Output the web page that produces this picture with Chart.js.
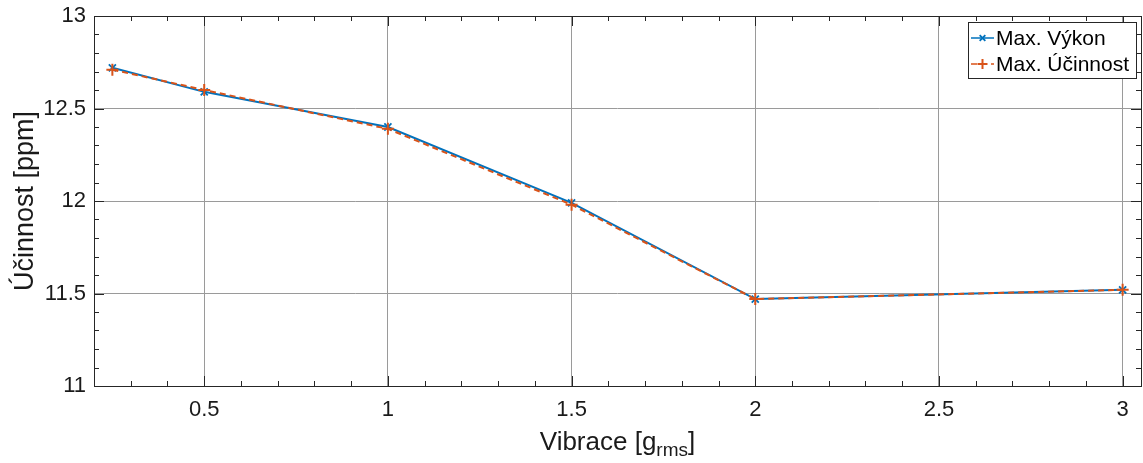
<!DOCTYPE html>
<html>
<head>
<meta charset="utf-8">
<script src="https://cdn.jsdelivr.net/npm/chart.js@4"></script>
<style>
  html, body { margin: 0; padding: 0; background: #fff; }
  #wrap { width: 1143px; height: 463px; }
</style>
</head>
<body>
<div id="wrap"><canvas id="chart"></canvas></div>
<script>
// data
const vibrace = [0.25, 0.5, 1, 1.5, 2, 3];
const maxVykon = [12.72, 12.59, 12.40, 11.99, 11.47, 11.52];
const maxUcinnost = [12.71, 12.60, 12.39, 11.98, 11.47, 11.52];

// axes
const xMajor = [0.5, 1, 1.5, 2, 2.5, 3];
const yMajor = [11, 11.5, 12, 12.5, 13];
const xRange = [0.2, 3.05];
const yRange = [11, 13];

const FONT = '"Liberation Sans", Arial, sans-serif';
const BLUE = '#0072BD';
const ORANGE = '#D95319';

function isMajor(v, list) {
    return list.some(m => Math.abs(m - v) < 1e-6);
}

// minor ticks every 0.1 between the limits
function minorTicks(lo, hi) {
    const out = [];
    for (let i = Math.ceil(lo * 10 - 1e-6); i <= Math.floor(hi * 10 + 1e-6); i++) {
        out.push({ value: i / 10 });
    }
    return out;
}

// MATLAB-style box: ticks inside on all four sides, axis titles, legend
const matlabBox = {
    id: 'matlabBox',
    afterDatasetsDraw(chart) {
        const { ctx, chartArea: a, scales } = chart;
        ctx.save();
        ctx.strokeStyle = '#262626';
        ctx.lineWidth = 1;

        scales.x.ticks.forEach(t => {
            const px = Math.round(scales.x.getPixelForValue(t.value)) + 0.5;
            const len = isMajor(t.value, xMajor) ? 10 : 5;
            ctx.beginPath();
            ctx.moveTo(px, a.bottom); ctx.lineTo(px, a.bottom - len);
            ctx.moveTo(px, a.top); ctx.lineTo(px, a.top + len);
            ctx.stroke();
        });
        scales.y.ticks.forEach(t => {
            const py = Math.round(scales.y.getPixelForValue(t.value)) + 0.5;
            const len = isMajor(t.value, yMajor) ? 10 : 5;
            ctx.beginPath();
            ctx.moveTo(a.left, py); ctx.lineTo(a.left + len, py);
            ctx.moveTo(a.right, py); ctx.lineTo(a.right - len, py);
            ctx.stroke();
        });
        ctx.strokeRect(Math.round(a.left) + 0.5, Math.round(a.top) + 0.5,
            Math.round(a.right - a.left), Math.round(a.bottom - a.top));

        // legend, top right inside the box
        const lx = a.right - 173, ly = a.top + 6, lw = 168, lh = 56;
        ctx.fillStyle = '#fff';
        ctx.fillRect(lx, ly, lw, lh);
        ctx.strokeRect(Math.round(lx) + 0.5, Math.round(ly) + 0.5, lw, lh);
        ctx.font = '21px ' + FONT;
        ctx.textBaseline = 'middle';
        ctx.textAlign = 'left';
        chart.data.datasets.forEach((ds, i) => {
            const cy = ly + 16 + i * 26;
            ctx.save();
            ctx.strokeStyle = ds.borderColor;
            ctx.lineWidth = 1.5;
            ctx.setLineDash(ds.borderDash || []);
            ctx.beginPath();
            ctx.moveTo(lx + 3, cy); ctx.lineTo(lx + 26, cy);
            ctx.stroke();
            ctx.setLineDash([]);
            ctx.lineWidth = ds.pointBorderWidth;
            Chart.helpers.drawPoint(ctx, {
                pointStyle: ds.pointStyle, radius: ds.pointRadius - 1,
                borderWidth: ds.pointBorderWidth, rotation: 0
            }, lx + 14.5, cy);
            ctx.restore();
            ctx.fillStyle = '#000';
            ctx.fillText(ds.label, lx + 28, cy + 1);
        });

        // axis titles
        ctx.fillStyle = '#1a1a1a';
        ctx.textBaseline = 'alphabetic';
        const main = 'Vibrace [g', sub = 'rms', end = ']';
        ctx.font = '26px ' + FONT;
        const w1 = ctx.measureText(main).width, w3 = ctx.measureText(end).width;
        ctx.font = '19px ' + FONT;
        const w2 = ctx.measureText(sub).width;
        let x0 = (a.left + a.right) / 2 - (w1 + w2 + w3) / 2;
        const base = 450;
        ctx.font = '26px ' + FONT;
        ctx.fillText(main, x0, base);
        ctx.font = '19px ' + FONT;
        ctx.fillText(sub, x0 + w1, base + 6);
        ctx.font = '26px ' + FONT;
        ctx.fillText(end, x0 + w1 + w2, base);

        ctx.save();
        ctx.translate(33, (a.top + a.bottom) / 2);
        ctx.rotate(-Math.PI / 2);
        ctx.textAlign = 'center';
        ctx.font = '27px ' + FONT;
        ctx.fillText('Účinnost [ppm]', 0, 0);
        ctx.restore();

        ctx.restore();
    }
};

new Chart(document.getElementById('chart'), {
    type: 'line',
    data: {
        datasets: [
            {
                label: 'Max. Výkon',
                data: vibrace.map((v, i) => ({ x: v, y: maxVykon[i] })),
                borderColor: BLUE,
                backgroundColor: BLUE,
                borderWidth: 2,
                pointStyle: 'crossRot',
                pointRadius: 5,
                pointBorderWidth: 1.8,
                pointBorderColor: BLUE,
                order: 1
            },
            {
                label: 'Max. Účinnost',
                data: vibrace.map((v, i) => ({ x: v, y: maxUcinnost[i] })),
                borderColor: ORANGE,
                backgroundColor: ORANGE,
                borderWidth: 2,
                borderDash: [6, 4],
                pointStyle: 'cross',
                pointRadius: 6,
                pointBorderWidth: 2,
                pointBorderColor: ORANGE,
                order: 0
            }
        ]
    },
    options: {
        responsive: true,
        maintainAspectRatio: false,
        animation: false,
        layout: { autoPadding: false, padding: { top: 16, right: 2, left: 0, bottom: 0 } },
        plugins: { legend: { display: false }, tooltip: { enabled: false } },
        scales: {
            x: {
                type: 'linear',
                min: xRange[0],
                max: xRange[1],
                afterBuildTicks: s => { s.ticks = minorTicks(xRange[0], xRange[1]); },
                afterFit: s => { s.height = 77; s.paddingLeft = 0; s.paddingRight = 0; },
                border: { display: false },
                grid: {
                    drawTicks: false,
                    color: c => isMajor(c.tick.value, xMajor) ? '#9a9a9a' : 'rgba(0,0,0,0)'
                },
                ticks: {
                    autoSkip: false,
                    maxRotation: 0,
                    padding: 11,
                    color: '#1a1a1a',
                    font: { family: FONT, size: 22 },
                    callback: v => isMajor(v, xMajor) ? String(v) : ''
                }
            },
            y: {
                type: 'linear',
                min: yRange[0],
                max: yRange[1],
                afterBuildTicks: s => { s.ticks = minorTicks(yRange[0], yRange[1]); },
                afterFit: s => { s.width = 94; s.paddingTop = 0; s.paddingBottom = 0; },
                border: { display: false },
                grid: {
                    drawTicks: false,
                    color: c => isMajor(c.tick.value, yMajor) ? '#9a9a9a' : 'rgba(0,0,0,0)'
                },
                ticks: {
                    autoSkip: false,
                    padding: 8,
                    color: '#1a1a1a',
                    font: { family: FONT, size: 22 },
                    callback: v => isMajor(v, yMajor) ? String(v) : ''
                }
            }
        }
    },
    plugins: [matlabBox]
});
</script>
</body>
</html>
